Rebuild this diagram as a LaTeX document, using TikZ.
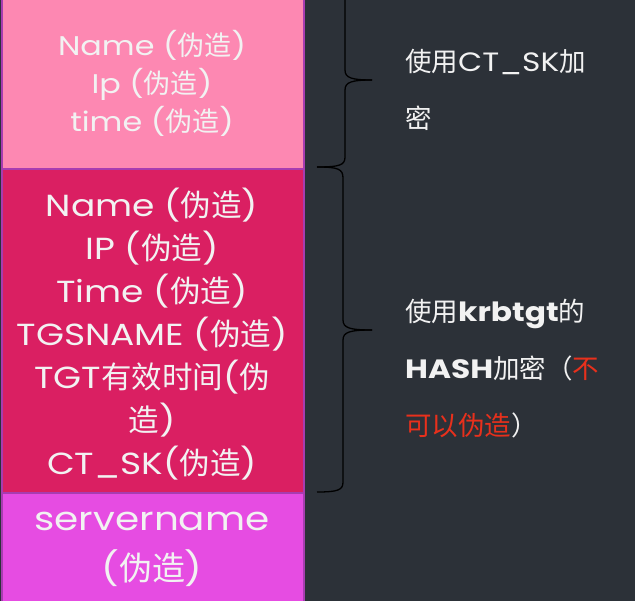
\documentclass[tikz,border=0pt]{standalone}
\usepackage{fontspec}
\setmainfont[FakeStretch=1.18]{Poppins}
\newfontfamily\cjk{Noto Sans CJK SC}
\newcommand{\myzh}[1]{{\cjk #1}}
\definecolor{bg}{HTML}{2C3138}
\definecolor{pinkA}{HTML}{FD88B2}
\definecolor{pinkB}{HTML}{DA1F62}
\definecolor{pinkC}{HTML}{E64CE2}
\definecolor{bord}{HTML}{A83CB0}
\definecolor{txt}{HTML}{F2F2F2}
\definecolor{redt}{HTML}{E8301C}
\tikzset{
  box/.style={draw=bord, line width=2pt, inner sep=0pt, anchor=north west, minimum width=302pt},
  boxtext/.style={text=txt, align=center, inner sep=0pt},
  note/.style={text=txt, align=left, inner sep=0pt, anchor=west, font=\fontsize{26.5}{57}\selectfont},
  brace/.style={draw=black, line width=1.3pt}
}
\begin{document}
\begin{tikzpicture}[x=1pt,y=-1pt]
\useasboundingbox (0,0) rectangle (635,601);
\fill[bg] (0,0) rectangle (635,601);
\node (b1) [box, fill=pinkA, minimum height=173pt] at (1,-5) {};
\node (b2) [box, fill=pinkB, minimum height=324pt] at (1,168) {};
\node (b3) [box, fill=pinkC, minimum height=112pt] at (1,492) {};
\node (t1) [boxtext, font=\fontsize{27}{38}\selectfont] at (152,83) {Name (\myzh{伪造})\\Ip (\myzh{伪造})\\time (\myzh{伪造})};
\node (t2) [boxtext, font=\fontsize{30.5}{43}\selectfont] at (152,334) {Name (\myzh{伪造})\\IP (\myzh{伪造})\\Time (\myzh{伪造})\\TGSNAME (\myzh{伪造})\\TGT\myzh{有效时间}(\myzh{伪}\\\myzh{造})\\CT\_SK(\myzh{伪造})};
\node (t3) [boxtext, font=\fontsize{33}{50}\selectfont] at (152,549) {servername\\(\myzh{伪造})};
\coordinate (k1) at (372,80);
\coordinate (k2) at (372,330);
\draw[brace] (345,-5) -- (345,70) .. controls (345,78) and (352,80) .. (k1);
\draw[brace] (k1) .. controls (352,80) and (345,82) .. (345,90) -- (345,157) .. controls (345,165) and (340,167) .. (317,167);
\draw[brace] (317,167) .. controls (338,167) and (343,169) .. (343,178) -- (343,320) .. controls (343,328) and (350,330) .. (k2);
\draw[brace] (k2) .. controls (350,330) and (343,332) .. (343,340) -- (343,482) .. controls (343,490) and (338,492) .. (317,492);
\node (n1) [note] at (405,90) {\myzh{使用}CT\_SK\myzh{加}\\\myzh{密}};
\node (n2) [note] at (405,369) {\myzh{使用}\textbf{krbtgt}\myzh{的}\\\textbf{HASH}\myzh{加密（\textcolor{redt}{不}}\\\myzh{\textcolor{redt}{可以伪造}）}};
\end{tikzpicture}
\end{document}
